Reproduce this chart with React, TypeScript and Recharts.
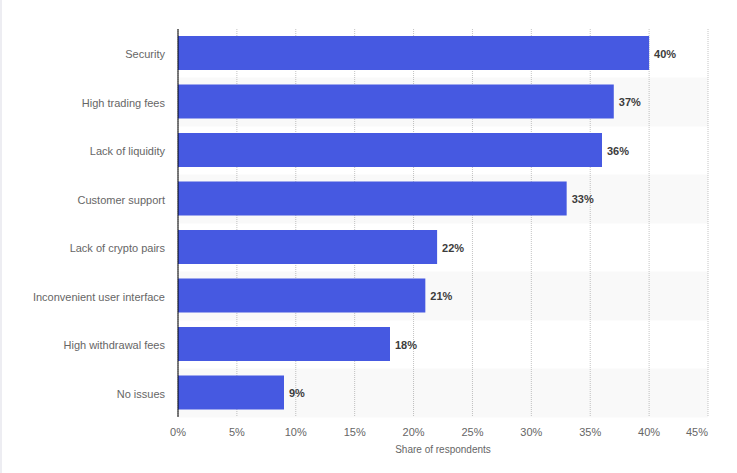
import React from 'react';
import { BarChart, Bar, XAxis, YAxis, CartesianGrid, LabelList } from 'recharts';

const categories = [
  'Security',
  'High trading fees',
  'Lack of liquidity',
  'Customer support',
  'Lack of crypto pairs',
  'Inconvenient user interface',
  'High withdrawal fees',
  'No issues',
];
const shares = [40, 37, 36, 33, 22, 21, 18, 9];
const xTicks = [0, 5, 10, 15, 20, 25, 30, 35, 40, 45];
const xMax = 45;
const axisTitle = 'Share of respondents';

const data = categories.map((name, i) => ({
  name,
  value: shares[i],
  band: i % 2 === 1 ? xMax : 0,
}));

const FONT = '"Liberation Sans", Arial, sans-serif';

const XTick = (props: any) => {
  const { x, y, payload } = props;
  const last = payload.value === xTicks[xTicks.length - 1];
  return (
    <text
      x={x}
      y={y}
      dy="0.71em"
      textAnchor={last ? 'end' : 'middle'}
      fill="#666"
      fontSize={11}
      fontFamily={FONT}
    >
      {`${payload.value}%`}
    </text>
  );
};

const AxisTitle = (props: any) => {
  const vb = props.viewBox || {};
  return (
    <text
      x={vb.x + vb.width / 2}
      y={vb.y + 36}
      textAnchor="middle"
      fill="#666"
      fontSize={10}
      fontFamily={FONT}
    >
      {axisTitle}
    </text>
  );
};

const ValueLabel = (props: any) => {
  const { x, y, width, height, value } = props;
  return (
    <text
      x={x + width + 5}
      y={y + height / 2 + 1}
      dy="0.355em"
      fill="#3c3c3c"
      fontSize={11}
      fontWeight="bold"
      fontFamily={FONT}
      textAnchor="start"
    >
      {`${value}%`}
    </text>
  );
};

export default function App() {
  return (
    <div style={{ position: 'absolute', left: 0, top: 0, width: 737, height: 473, background: '#fff' }}>
      <div
        style={{
          position: 'absolute',
          left: 0,
          top: 0,
          width: 2,
          height: 473,
          background: '#ededf2',
        }}
      />
      <div style={{ position: 'absolute', left: 0, top: 0 }}>
        <BarChart
          width={737}
          height={473}
          data={data}
          layout="vertical"
          margin={{ top: 29, right: 29, bottom: 0, left: 0 }}
          barCategoryGap={0}
        >
          <CartesianGrid horizontal={false} stroke="#c4c4c4" strokeDasharray="1 1" />
          <XAxis
            type="number"
            domain={[0, xMax]}
            ticks={xTicks}
            axisLine={false}
            tickLine={false}
            tickSize={0}
            tickMargin={11}
            height={56}
            tick={<XTick />}
            label={<AxisTitle />}
            interval={0}
          />
          <YAxis yAxisId="band" type="category" dataKey="name" hide />
          <YAxis
            type="category"
            dataKey="name"
            width={178}
            tickLine={false}
            tickSize={0}
            tickMargin={13}
            axisLine={{ stroke: '#000', strokeWidth: 1 }}
            tick={{ fill: '#666', fontSize: 11, fontFamily: FONT, dy: 1 }}
            interval={0}
          />
          <Bar
            yAxisId="band"
            dataKey="band"
            fill="#000"
            fillOpacity={0.022}
            isAnimationActive={false}
          />
          <Bar dataKey="value" fill="#4659e1" barSize={34} isAnimationActive={false}>
            <LabelList dataKey="value" content={<ValueLabel />} />
          </Bar>
        </BarChart>
      </div>
    </div>
  );
}
